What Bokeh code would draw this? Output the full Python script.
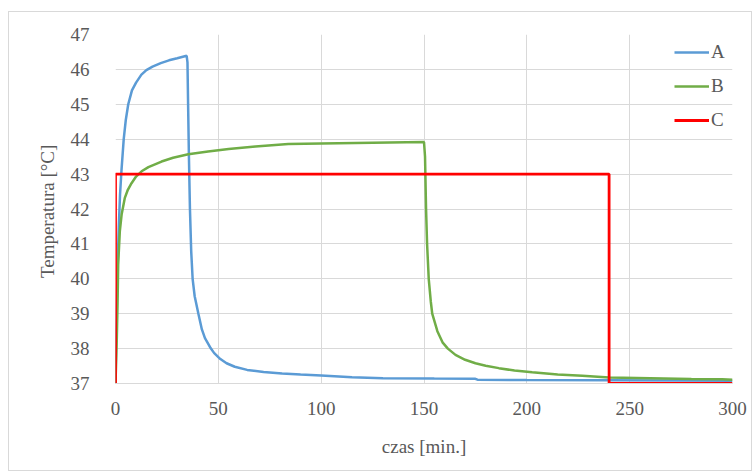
from bokeh.plotting import figure
from bokeh.models import Legend, LegendItem, FixedTicker, Range1d
from bokeh.embed import file_html
from bokeh.resources import INLINE

# Series A: short heating pulse, then cooling back towards 37 °C
a_time = [0, 0.5, 1.0, 1.6, 2.2, 2.9, 4.0, 5.0, 6.2, 8.0, 10, 12.6, 15, 18, 22, 26, 30, 34.6,
          35.0, 35.3, 35.7, 36.2, 36.8, 37.5, 38.5, 40.3, 42, 43.5, 46.4, 48, 51, 54, 58, 64,
          72, 81, 90, 100, 115, 130, 155, 175, 176, 200, 240, 300]
a_temp = [37.0, 39.0, 40.3, 41.5, 42.4, 43.1, 44.0, 44.55, 45.0, 45.4, 45.62, 45.85, 45.98, 46.08,
          46.18, 46.26, 46.32, 46.39,
          46.2, 45.0, 43.5, 42.0, 40.8, 40.0, 39.5, 39.0, 38.55, 38.3, 38.0, 37.87, 37.7, 37.58,
          37.48, 37.39, 37.33, 37.29, 37.26, 37.23, 37.18, 37.15, 37.14, 37.135, 37.11, 37.1,
          37.09, 37.08]

# Series B: long heating phase, then cooling
b_time = [0, 0.6, 1.0, 1.3, 2.1, 3.0, 4.5, 6.0, 7.8, 10, 12.7, 16, 22.4, 28, 35.4, 45, 55, 68,
          84, 100, 125, 150, 150.5, 151, 151.5, 152.3, 153.3, 154, 156.5, 159, 161.6, 165.3, 170,
          175, 180, 186.4, 194, 202.6, 215, 227, 240, 260, 280, 295, 300]
b_temp = [37.0, 38.2, 39.3, 40.4, 41.36, 41.85, 42.31, 42.55, 42.74, 42.93, 43.08, 43.2, 43.36,
          43.47, 43.57, 43.65, 43.72, 43.79, 43.86, 43.88, 43.9, 43.92, 43.5, 42.0, 41.0, 40.0,
          39.35, 39.0, 38.5, 38.18, 38.0, 37.82, 37.68, 37.58, 37.51, 37.44, 37.37, 37.32, 37.26,
          37.22, 37.17, 37.15, 37.13, 37.12, 37.11]

# Series C: constant 43 °C setpoint between 0 and 240 min
c_time = [0, 0, 240, 240, 300]
c_temp = [37, 43, 43, 37, 37]

series_names = ["A", "B", "C"]
x_ticks = [0, 50, 100, 150, 200, 250, 300]
y_ticks = [37, 38, 39, 40, 41, 42, 43, 44, 45, 46, 47]

FONT = "Liberation Serif"
TEXT = "#595959"
GRID = "#d9d9d9"

p = figure(width=744, height=460, output_backend="svg", toolbar_location=None,
           x_range=Range1d(0, 300), y_range=Range1d(37, 47),
           min_border_left=106, min_border_right=21, min_border_top=22, min_border_bottom=89)
p.margin = (11, 0, 0, 8)
p.styles = {"border": "1px solid #d9d9d9", "box-sizing": "border-box"}
p.outline_line_color = None
p.background_fill_color = "white"
p.border_fill_color = "white"

p.xaxis.ticker = FixedTicker(ticks=x_ticks)
p.yaxis.ticker = FixedTicker(ticks=y_ticks)
p.axis.major_tick_line_color = None
p.axis.minor_tick_line_color = None
p.axis.major_label_text_font = FONT
p.axis.major_label_text_font_size = "19px"
p.axis.major_label_text_color = TEXT
p.axis.axis_label_text_font = FONT
p.axis.axis_label_text_font_size = "19px"
p.axis.axis_label_text_color = TEXT
p.axis.axis_label_text_font_style = "normal"
p.xaxis.axis_line_color = GRID
p.yaxis.axis_line_color = None
p.xaxis.axis_label = "czas [min.]"
p.yaxis.axis_label = "Temperatura  [°C]"
p.xaxis.major_label_standoff = 12
p.xaxis.axis_label_standoff = 18
p.yaxis.major_label_standoff = 20
p.yaxis.axis_label_standoff = 10

p.xgrid.ticker = FixedTicker(ticks=x_ticks)
p.ygrid.ticker = FixedTicker(ticks=y_ticks)
p.xgrid.grid_line_color = GRID
p.ygrid.grid_line_color = GRID

r_a = p.line(a_time, a_temp, line_color="#5B9BD5", line_width=2.5)
r_b = p.line(b_time, b_temp, line_color="#70AD47", line_width=2.5)
r_c = p.line(c_time, c_temp, line_color="#FF0000", line_width=2.8)

legend = Legend(items=[LegendItem(label=n, renderers=[r]) for n, r in zip(series_names, [r_a, r_b, r_c])],
                location="top_right", background_fill_alpha=0, border_line_color=None,
                label_text_font=FONT, label_text_font_size="19px", label_text_color=TEXT,
                glyph_width=35, glyph_height=34, label_height=34, label_standoff=2,
                spacing=0, padding=0, margin=1)
p.add_layout(legend)

open("out.html", "w").write(file_html(p, INLINE))
